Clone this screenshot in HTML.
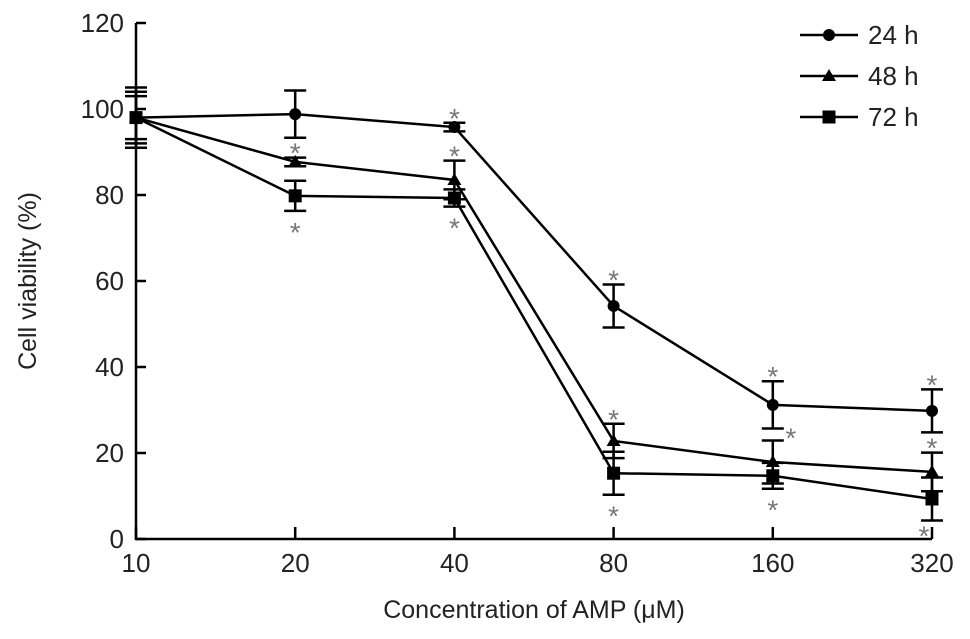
<!DOCTYPE html>
<html><head><meta charset="utf-8"><style>
body{margin:0;background:#fff}
svg{display:block;font-family:"Liberation Sans",sans-serif}
</style></head><body>
<svg id="chart" width="970" height="639" viewBox="0 0 970 639"></svg>
<script>
const categories=["10","20","40","80","160","320"];
const yTicks=[0,20,40,60,80,100,120];
const series24=[98,98.8,95.8,54.2,31.2,29.8];
const err24=[6,5.5,1,5,5.5,5];
const series48=[98,87.7,83.5,22.8,17.9,15.6];
const err48=[5,1,4.5,4,5,4.5];
const series72=[98,79.8,79.3,15.3,14.7,9.3];
const err72=[7,3.5,2,5,3,5];
const seriesNames=["24 h","48 h","72 h"];
const NS="http://www.w3.org/2000/svg";
const svg=document.getElementById('chart');
const x0=136,x1=932,y0=539,y1=23;
const X=i=>x0+(x1-x0)*i/(categories.length-1);
const Y=v=>y0-(y0-y1)*v/120;
function mk(t,a,p){const e=document.createElementNS(NS,t);for(const k in a)e.setAttribute(k,a[k]);(p||svg).appendChild(e);return e;}
let ax=mk('path',{d:`M${x0} ${y1}V${y0}H${x1}`,stroke:'#000','stroke-width':2.5,fill:'none'});


yTicks.forEach(v=>{
  mk('line',{x1:x0,x2:x0+10,y1:Y(v),y2:Y(v),stroke:'#000','stroke-width':2.5});
  let t=mk('text',{x:x0-12,y:Y(v)+9,'text-anchor':'end','font-size':26,fill:'#222'});t.textContent=v;
  
  
});
categories.forEach((c,i)=>{
  mk('line',{x1:X(i),x2:X(i),y1:y0,y2:y0-12,stroke:'#000','stroke-width':2.5});
  let t=mk('text',{x:X(i),y:y0+33,'text-anchor':'middle','font-size':26,fill:'#222'});t.textContent=c;
  
  
});
let xt=mk('text',{x:534,y:618,'text-anchor':'middle','font-size':25,fill:'#222'});xt.textContent='Concentration of AMP (\u03bcM)';


let yt=mk('text',{x:0,y:0,transform:'translate(36,281) rotate(-90)','text-anchor':'middle','font-size':25,fill:'#222'});yt.textContent='Cell viability (%)';


function marker(shape,cx,cy,g){
  if(shape==='circle')mk('circle',{cx,cy,r:6,fill:'#000'},g);
  else if(shape==='tri')mk('path',{d:`M${cx} ${cy-7}L${cx+7} ${cy+5}L${cx-7} ${cy+5}Z`,fill:'#000'},g);
  else mk('rect',{x:cx-6.5,y:cy-6.5,width:13,height:13,fill:'#000'},g);
}
const all=[[series24,err24,'circle'],[series48,err48,'tri'],[series72,err72,'square']];
all.forEach(([vals,errs,shape],si)=>{
  const g=mk('g',{});
  
  
  mk('polyline',{points:vals.map((v,i)=>X(i)+','+Y(v)).join(' '),fill:'none',stroke:'#000','stroke-width':2.5},g);
  vals.forEach((v,i)=>{
    const a=Y(v+errs[i]),b=Y(v-errs[i]),x=X(i);
    mk('path',{d:`M${x} ${a}V${b}M${x-11} ${a}H${x+11}M${x-11} ${b}H${x+11}`,stroke:'#000','stroke-width':2.5,fill:'none'},g);
    marker(shape,x,Y(v),g);
  });
});
const stars=[[1,series48[1],err48[1],1,0],[1,series72[1],err72[1],-1,0],[2,series24[2],err24[2],1,0],[2,series48[2],err48[2],1,0],[2,series72[2],err72[2],-1,0],
[3,series24[3],err24[3],1,0],[3,series48[3],err48[3],1,0],[3,series72[3],err72[3],-1,0],[4,series24[4],err24[4],1,0],[4,series24[4],err24[4],-1,18],[4,series72[4],err72[4],-1,0],
[5,series24[5],err24[5],1,0],[5,series48[5],err48[5],1,0],[5,series72[5],err72[5],-1,-8]];
stars.forEach(([i,v,e,d,dx])=>{
  let cy = d>0 ? Y(v+e)-12 : Y(v-e)+14;
  if(dx>10) cy=Y(v-e)+2;
  if(dx<0) cy=Y(v-e)+8;
  let t=mk('text',{x:X(i)+dx,y:cy+17,'text-anchor':'middle','font-size':28,fill:'#777'});t.textContent='*';
  
  });
['circle','tri','square'].forEach((s,k)=>{
  const g=mk('g',{});
  
  
  const y=35+k*41;
  mk('line',{x1:800,x2:858,y1:y,y2:y,stroke:'#000','stroke-width':2.5},g);
  marker(s,829,y,g);
  let t=mk('text',{x:868,y:y+9,'font-size':26,fill:'#222'},g);t.textContent=seriesNames[k];
});
</script>
</body></html>
